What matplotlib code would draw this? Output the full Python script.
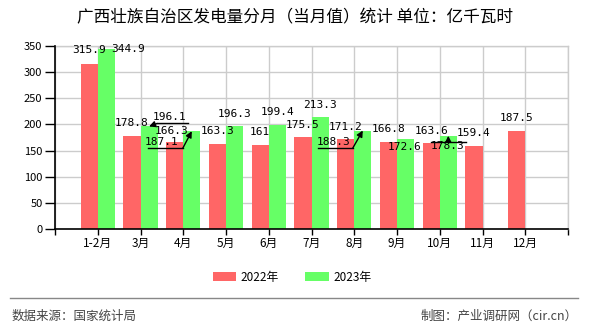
import matplotlib
matplotlib.use("Agg")
import matplotlib.pyplot as plt
import numpy as np
from matplotlib.transforms import offset_copy

plt.rcParams['font.family'] = ['Noto Sans CJK SC', 'DejaVu Sans']

months = ["1-2月", "3月", "4月", "5月", "6月", "7月", "8月", "9月", "10月", "11月", "12月"]
v2022 = [315.9, 178.8, 166.3, 163.3, 161, 175.5, 171.2, 166.8, 163.6, 159.4, 187.5]
v2023 = [344.9, 196.1, 187.1, 196.3, 199.4, 213.3, 188.3, 172.6, 178.3]
yticks = [0, 50, 100, 150, 200, 250, 300, 350]

# label offsets in pixels (dx, dy) relative to bar top, default (0, 12.5)
off2022 = {0: (0, 14), 2: (-3, 11)}
off2023 = {0: (22, 0), 1: (21, 9.5), 2: (-30, -11), 6: (-29, -11.5),
           7: (-1, -8), 8: (-1, -10)}
# leader lines: (underline start, underline end, arrow tail) in pixel offsets
leaders = {1: ((8, 3), (39, 3), (8, 3)),
           2: ((-44, -17), (-9, -17), (-9, -17)),
           6: ((-45, -17.5), (-10, -17.5), (-10, -17.5)),
           8: ((-17, -6), (18, -6), (0, -6))}

RED = "#ff6666"
GREEN = "#66ff66"
W = 0.4

fig = plt.figure(figsize=(5.9, 3.3), dpi=100)
ax = fig.add_axes([55 / 590, 1 - 229 / 330, 513 / 590, 183 / 330])

x = np.arange(len(months))
ax.bar(x - W / 2, v2022, W, color=RED, zorder=2, label="2022年")
ax.bar(x[:len(v2023)] + W / 2, v2023, W, color=GREEN, zorder=2, label="2023年")

ax.set_xlim(-1, len(months))
ax.set_ylim(0, 350)
ax.set_yticks(yticks)
ax.set_xticks(np.arange(-1, len(months) + 1))
ax.set_xticklabels([""] + months + [""], fontsize=8.5)
ax.tick_params(axis='y', labelsize=8, length=7, width=1, pad=2)
ax.tick_params(axis='x', length=4, width=1, pad=2)
ax.grid(True, color="#cccccc", lw=1, zorder=1)
for s in ["top", "right"]:
    ax.spines[s].set_color("#cccccc")
    ax.spines[s].set_linewidth(1)
for s in ["left", "bottom"]:
    ax.spines[s].set_linewidth(1.2)
    ax.spines[s].set_zorder(5)

num_font = dict(family="DejaVu Sans Mono", fontsize=8)


def label(xv, yv, text, dx, dy):
    ax.annotate(text, (xv, yv), xytext=(dx, dy), textcoords="offset pixels",
                ha="center", va="center", zorder=6, **num_font)


for i, v in enumerate(v2022):
    dx, dy = off2022.get(i, (0, 12.5))
    label(x[i] - W / 2, v, f"{v:g}", dx, dy)
for i, v in enumerate(v2023):
    dx, dy = off2023.get(i, (0, 12.5))
    label(x[i] + W / 2, v, f"{v:g}", dx, dy)

for i, (u0, u1, tail) in leaders.items():
    bx, by = x[i] + W / 2, v2023[i]
    t0 = offset_copy(ax.transData, fig=fig, x=u0[0], y=u0[1], units="dots")
    t1 = offset_copy(ax.transData, fig=fig, x=u1[0], y=u1[1], units="dots")
    p0 = t0.transform((bx, by))
    p1 = t1.transform((bx, by))
    ax.plot([p0[0], p1[0]], [p0[1], p1[1]], color="black", lw=1,
            transform=None, zorder=6)
    ax.annotate("", (bx, by), xytext=tail, textcoords="offset pixels",
                arrowprops=dict(arrowstyle="-|>", color="black", lw=1,
                                mutation_scale=9, shrinkA=0, shrinkB=0),
                zorder=6)

fig.text(0.5, 1 - 18 / 330, "广西壮族自治区发电量分月（当月值）统计 单位：亿千瓦时",
         ha="center", va="center", fontsize=12)

fig.legend(loc="center", bbox_to_anchor=(0.495, 1 - 277 / 330), ncol=2,
           frameon=False, fontsize=8.5, handlelength=2.0, handleheight=0.9,
           handletextpad=0.4, columnspacing=2.2)

fig.add_artist(plt.Line2D([10 / 590, 578 / 590], [1 - 298 / 330] * 2,
                          color="#888888", lw=1))
fig.text(12 / 590, 1 - 316 / 330, "数据来源：国家统计局", ha="left", va="center",
         fontsize=9, color="#444444")
fig.text(578 / 590, 1 - 316 / 330, "制图：产业调研网（cir.cn）", ha="right",
         va="center", fontsize=9, color="#444444")

fig.savefig("out.png", dpi=100)
